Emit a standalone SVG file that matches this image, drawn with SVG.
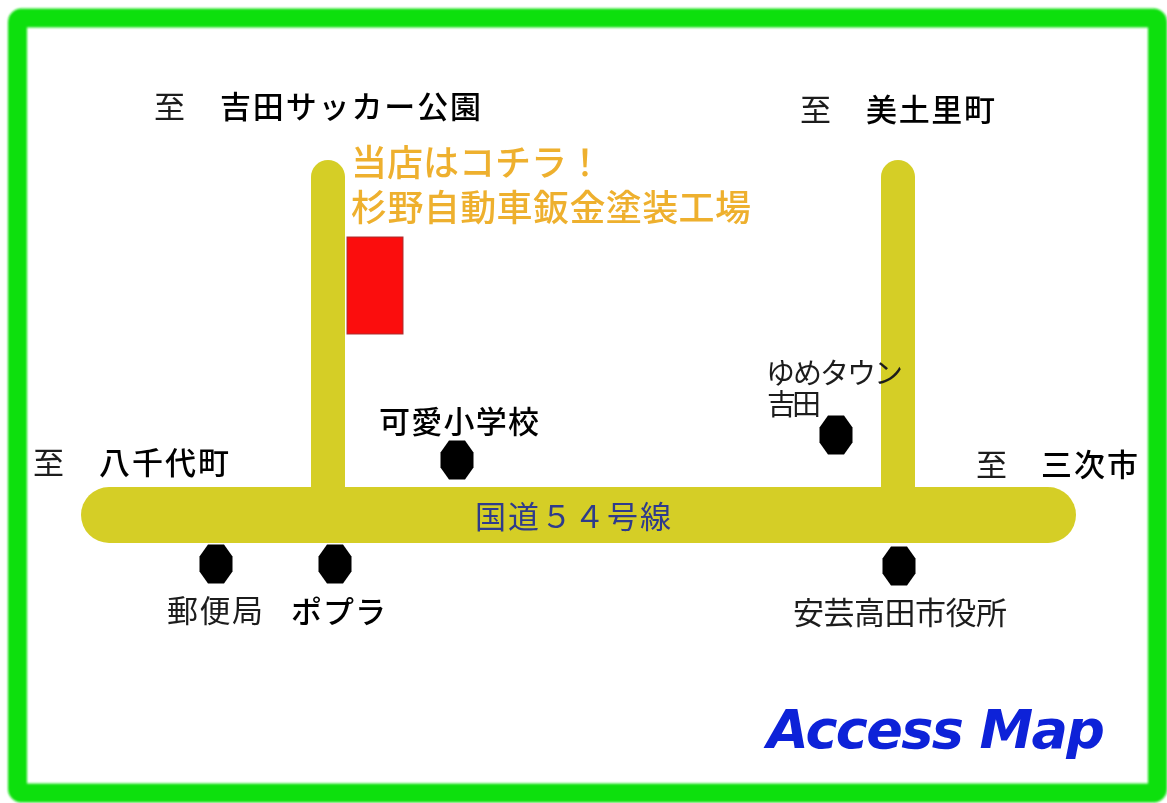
<svg xmlns="http://www.w3.org/2000/svg" width="1167" height="803" viewBox="0 0 1167 803">
<defs>
<filter id="soft" x="-5%" y="-5%" width="110%" height="110%"><feGaussianBlur stdDeviation="1.1"/></filter>
<filter id="fine" x="0" y="0" width="100%" height="100%" filterUnits="userSpaceOnUse" primitiveUnits="userSpaceOnUse"><feGaussianBlur stdDeviation="0.5"/></filter>
<polygon id="dot" points="-8,-19.500 8,-19.500 16.500,-7.500 16.500,7.500 8,19.500 -8,19.500 -16.500,7.500 -16.500,-7.500"/>
</defs>
<style>
text{font-family:"Noto Sans CJK JP","Noto Sans",sans-serif;fill:#1c1c1c}
.l{font-size:31px}
.b{font-weight:500;fill:#000}
.s{font-size:29px}
.o{font-size:36px;fill:#eeb02e;font-weight:500}
.road{fill:#d5ce27}
</style>
<rect width="1167" height="803" fill="#fff"/>
<rect id="frame" x="17.500" y="18" width="1140" height="775" rx="4" fill="none" stroke="#0ee010" stroke-width="19" filter="url(#soft)"/>
<g filter="url(#fine)">
<g id="connectors">
<rect class="road" x="311" y="160" width="34" height="350" rx="17"/>
<rect class="road" x="881" y="160" width="34" height="350" rx="17"/>
<rect class="road" x="81" y="487" width="995" height="56" rx="28"/>
</g>
<g id="shop"><rect x="347" y="237" width="56" height="97" fill="#fb0808" stroke="#a33" stroke-width="1"/></g>
<g id="shop-label">
<text class="o" x="351" y="176">当店はコチラ！</text>
<text class="o" x="351" y="221" textLength="400">杉野自動車鈑金塗装工場</text>
</g>
<g id="to-soccer-park"><text class="l" x="154" y="118">至</text><text class="l b" x="220" y="118" textLength="261">吉田サッカー公園</text></g>
<g id="to-mitsuri"><text class="l" x="800" y="121">至</text><text class="l b" x="866" y="121" textLength="129">美土里町</text></g>
<g id="to-yachiyo"><text class="l" x="33" y="474">至</text><text class="l b" x="99" y="474" textLength="130">八千代町</text></g>
<g id="to-miyoshi"><text class="l" x="976" y="476">至</text><text class="l b" x="1041" y="476" textLength="97">三次市</text></g>
<g id="route54"><text class="l" x="475" y="528" textLength="196" style="fill:#2d3a8c">国道５４号線</text></g>
<g id="school"><use href="#dot" x="457" y="460"/><text class="l b" x="379" y="433" textLength="160">可愛小学校</text></g>
<g id="yumetown"><use href="#dot" x="836" y="435"/><text class="s" x="766" y="384" textLength="137">ゆめタウン</text><text class="s" x="767" y="415" textLength="54">吉田</text></g>
<g id="post-office"><use href="#dot" x="216" y="564"/><text class="l" x="167" y="622" textLength="96">郵便局</text></g>
<g id="poplar"><use href="#dot" x="335" y="564"/><text class="l b" x="291" y="623" textLength="95">ポプラ</text></g>
<g id="city-hall"><use href="#dot" x="899" y="566"/><text class="l" x="793" y="624" textLength="214">安芸高田市役所</text></g>
<g id="title"><text x="767" y="748" style="font-family:'DejaVu Sans',sans-serif;font-size:54px;font-weight:bold;font-style:italic;fill:#1020d8" textLength="338">Access Map</text></g>
</g>
</svg>
